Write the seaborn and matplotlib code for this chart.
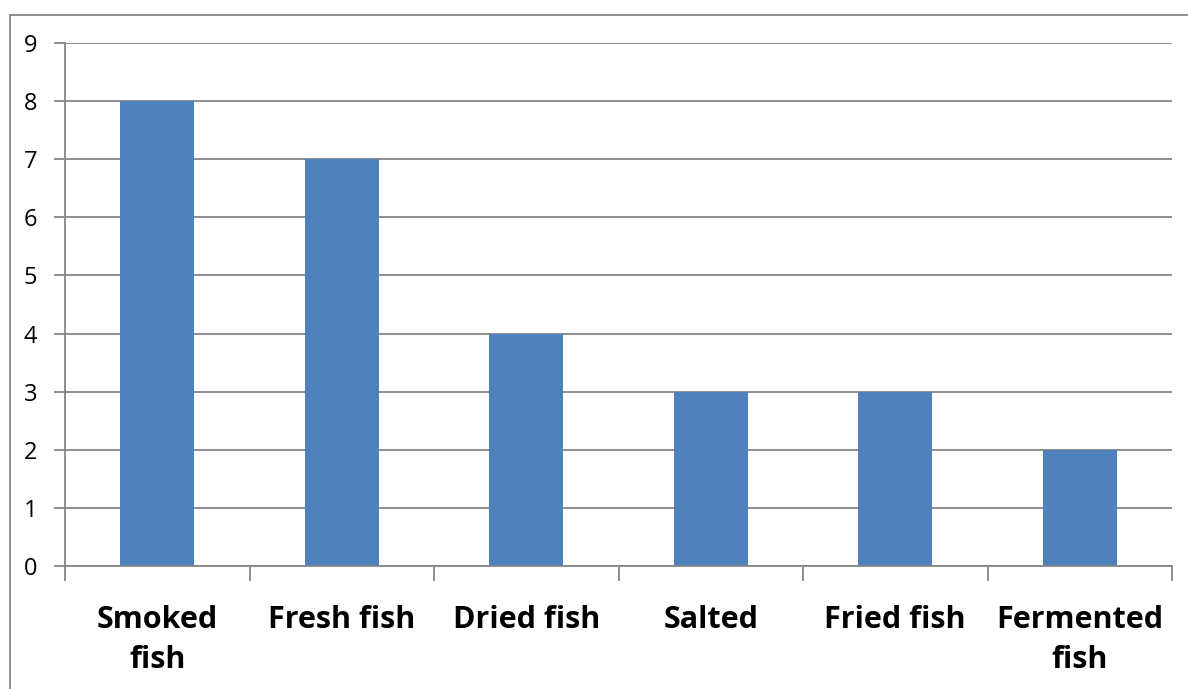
import matplotlib
matplotlib.use("Agg")
import numpy as np
import pandas as pd
import seaborn as sns
import matplotlib.pyplot as plt
from matplotlib.patches import Rectangle

categories = ["Smoked\nfish", "Fresh fish", "Dried fish", "Salted", "Fried fish", "Fermented\nfish"]
counts = [8, 7, 4, 3, 3, 2]
yticks = list(range(0, 10))

df = pd.DataFrame({"category": categories, "count": counts})

sns.set_style("white")
plt.rcParams["font.family"] = ["Open Sans", "DejaVu Sans"]
plt.rcParams["xtick.color"] = "black"
plt.rcParams["ytick.color"] = "black"

fig = plt.figure(figsize=(11.88, 6.89), dpi=100)
ax = fig.add_axes([65 / 1188, 1 - 566 / 689, (1172 - 65) / 1188, (566 - 43) / 689])

sns.barplot(data=df, x="category", y="count", color="#4F81BD", saturation=1,
            width=0.4, linewidth=0, edgecolor="none", ax=ax)

grid_col = "#868686"
ax.set_ylim(0, 9)
ax.set_xlim(-0.5, len(categories) - 0.5)
ax.set_yticks(yticks)
ax.yaxis.grid(True, color=grid_col, linewidth=1.3)
ax.set_axisbelow(True)
for s in ["top", "right"]:
    ax.spines[s].set_visible(False)
for s in ["left", "bottom"]:
    ax.spines[s].set_color(grid_col)
    ax.spines[s].set_linewidth(1.3)

ax.set_xlabel("")
ax.set_ylabel("")
ax.tick_params(axis="y", left=True, length=8, width=1.3, color=grid_col,
               labelcolor="black", pad=12, labelsize=17)
# x ticks at category boundaries
ax.set_xticks(np.arange(-0.5, len(categories)), minor=True)
ax.tick_params(axis="x", which="minor", bottom=True, length=11, width=1.3,
               color=grid_col, direction="out")
ax.tick_params(axis="x", which="major", length=0, pad=28, labelcolor="black")
ax.set_xticklabels(categories, fontsize=22, fontweight="bold", linespacing=1.45)
for lbl in ax.get_xticklabels():
    lbl.set_verticalalignment("top")

# outer chart border (partly cut off)
fig.patches.append(Rectangle((10 / 1188, -0.1), 1.2, 1 - 15 / 689 + 0.1,
                             transform=fig.transFigure, fill=False,
                             edgecolor=grid_col, linewidth=1.3))

fig.savefig("out.png", dpi=100)
